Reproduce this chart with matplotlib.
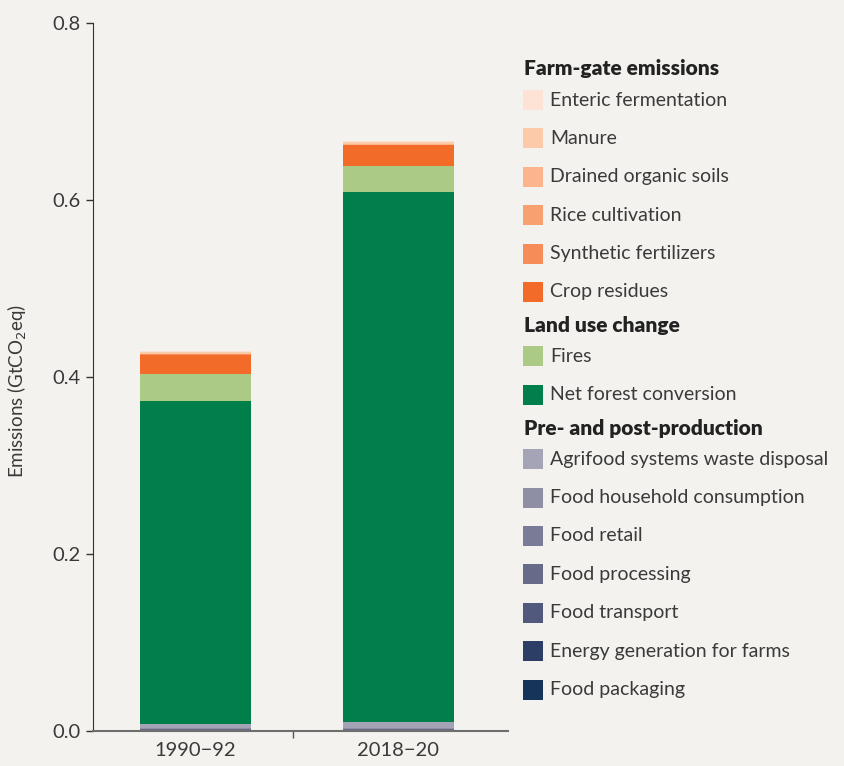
import matplotlib.pyplot as plt
from matplotlib.patches import Rectangle

plt.rcParams['font.family'] = ['Lato', 'DejaVu Sans']

periods = ['1990\u221292', '2018\u221220']

# stacking order, bottom to top
components = ['Food packaging', 'Energy generation for farms', 'Food transport',
              'Food processing', 'Food retail', 'Food household consumption',
              'Agrifood systems waste disposal', 'Net forest conversion', 'Fires',
              'Crop residues', 'Synthetic fertilizers', 'Rice cultivation',
              'Drained organic soils', 'Manure', 'Enteric fermentation']
colors = ['#163359', '#2d3e66', '#515a7d', '#666b89', '#797b97', '#8e8ea5',
          '#a4a4b6', '#007f4b', '#abca86', '#f26b29', '#f68c57', '#f9a070',
          '#fbb48b', '#fcc9a9', '#fde3d5']
vals_1990 = [0.0005, 0.0005, 0.0005, 0.0005, 0.0005, 0.0005, 0.005, 0.365, 0.030,
             0.022, 0.0005, 0.0003, 0.0005, 0.0015, 0.002]
vals_2018 = [0.0005, 0.0005, 0.0005, 0.0005, 0.0005, 0.0005, 0.007, 0.599, 0.029,
             0.024, 0.0003, 0.0002, 0.0005, 0.002, 0.002]

groups = [('Farm-gate emissions', ['Enteric fermentation', 'Manure', 'Drained organic soils',
                                   'Rice cultivation', 'Synthetic fertilizers', 'Crop residues']),
          ('Land use change', ['Fires', 'Net forest conversion']),
          ('Pre- and post-production', ['Agrifood systems waste disposal',
                                        'Food household consumption', 'Food retail',
                                        'Food processing', 'Food transport',
                                        'Energy generation for farms', 'Food packaging'])]

bg = '#f3f2ee'
W, H = 845, 766
fig = plt.figure(figsize=(8.45, 7.66), dpi=100, facecolor=bg)
ax = fig.add_axes([93 / W, 35 / H, (508 - 93) / W, (731 - 23) / H])
ax.set_facecolor(bg)

x = [0, 1]
bottoms = [0.0, 0.0]
for name, c, v1, v2 in zip(components, colors, vals_1990, vals_2018):
    ax.bar(x, [v1, v2], bottom=bottoms, width=0.547, color=c, linewidth=0)
    bottoms = [bottoms[0] + v1, bottoms[1] + v2]

ax.set_ylim(0, 0.8)
ax.set_xlim(-0.505, 1.54)
ax.set_yticks([0, 0.2, 0.4, 0.6, 0.8])
ax.set_yticklabels(['0.0', '0.2', '0.4', '0.6', '0.8'])
ax.set_xticks(x)
ax.set_xticklabels(periods)
ax.set_xticks([0.48], minor=True)
ax.tick_params(axis='x', which='major', length=0, pad=8, labelsize=14.5, labelcolor='#3a3a3a')
ax.tick_params(axis='x', which='minor', length=5, width=1, color='#555555')
ax.tick_params(axis='y', length=5, width=1, color='#333333', labelsize=14.5,
               labelcolor='#3a3a3a', pad=4)
for s in ['top', 'right']:
    ax.spines[s].set_visible(False)
ax.spines['left'].set_color('#333333')
ax.spines['bottom'].set_color('#6e6e6e')
ax.spines['bottom'].set_linewidth(1.5)
ax.set_ylabel('Emissions (GtCO$_2$eq)', fontsize=13.5, color='#3a3a3a')
ax.yaxis.set_label_coords(-64 / 415, 0.48)

# legend drawn by hand, grouped with bold headers
color_of = dict(zip(components, colors))
y = 69
for header, items in groups:
    fig.text(524 / W, 1 - y / H, header, fontsize=15, fontweight='heavy',
             color='#222222', va='center', ha='left')
    y += 31
    for item in items:
        fig.patches.append(Rectangle((523 / W, 1 - (y + 10) / H), 20 / W, 20 / H,
                                     transform=fig.transFigure, color=color_of[item],
                                     linewidth=0))
        fig.text(550 / W, 1 - y / H, item, fontsize=14, color='#3a3a3a',
                 va='center', ha='left')
        y += 38.4
    y -= 5

fig.savefig('out.png', dpi=100, facecolor=bg)
